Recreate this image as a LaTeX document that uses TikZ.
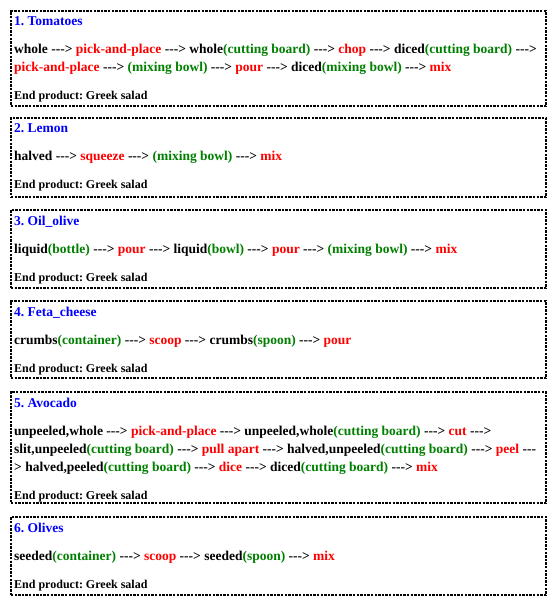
\documentclass[tikz,border=0pt]{standalone}
\usepackage{fontspec}
\setmainfont{Liberation Serif}[Ligatures=TeXOff]
\usetikzlibrary{positioning}

\definecolor{titleblue}{RGB}{0,0,255}
\definecolor{actred}{RGB}{255,0,0}
\definecolor{locgreen}{RGB}{0,128,0}
\newcommand{\act}[1]{\textcolor{actred}{#1}}
\newcommand{\loc}[1]{\textcolor{locgreen}{#1}}
\newcommand{\dish}[1]{\textcolor{titleblue}{#1}}
\newcommand{\product}[1]{{\fontsize{12pt}{18pt}\selectfont #1}}

\begin{document}
\begin{tikzpicture}[x=1pt,y=1pt,
    every node/.style={font=\bfseries\frenchspacing\fontsize{13.5pt}{18pt}\selectfont},
    recipe/.style={draw=black,line width=1.2pt,dash pattern=on 2.4pt off 1.2pt,
        minimum width=535pt,inner sep=0pt,outer sep=0pt,anchor=north},
    steps/.style={anchor=north west,align=left,inner sep=0pt}]

\useasboundingbox[fill=white] (0,0) rectangle (558,-601);

% Boxes
\node[  recipe,
        minimum height=95pt
    ] (box1) at (278.5,-11) {};
\node[  recipe,
        minimum height=79pt,
        below=12pt of box1
    ] (box2) {};
\node[  recipe,
        minimum height=78pt,
        below=13pt of box2
    ] (box3) {};
\node[  recipe,
        minimum height=77pt,
        below=13pt of box3
    ] (box4) {};
\node[  recipe,
        minimum height=111pt,
        below=14pt of box4
    ] (box5) {};
\node[  recipe,
        minimum height=78pt,
        below=14pt of box5
    ] (box6) {};

% Texts
\node[steps] (steps1) at ([xshift=3pt,yshift=-5.5pt]box1.north west) {%
    \dish{1. Tomatoes}\\[10pt]
    whole ---> \act{pick-and-place} ---> whole\loc{(cutting board)} ---> \act{chop} ---> diced\loc{(cutting board)} --->\\
    \act{pick-and-place} ---> \loc{(mixing bowl)} ---> \act{pour} ---> diced\loc{(mixing bowl)} ---> \act{mix}\\[10pt]
    \product{End product: Greek salad}};
\node[steps] (steps2) at ([xshift=3pt,yshift=-5.5pt]box2.north west) {%
    \dish{2. Lemon}\\[10pt]
    halved ---> \act{squeeze} ---> \loc{(mixing bowl)} ---> \act{mix}\\[10pt]
    \product{End product: Greek salad}};
\node[steps] (steps3) at ([xshift=3pt,yshift=-5.5pt]box3.north west) {%
    \dish{3. Oil\_olive}\\[10pt]
    liquid\loc{(bottle)} ---> \act{pour} ---> liquid\loc{(bowl)} ---> \act{pour} ---> \loc{(mixing bowl)} ---> \act{mix}\\[10pt]
    \product{End product: Greek salad}};
\node[steps] (steps4) at ([xshift=3pt,yshift=-5.5pt]box4.north west) {%
    \dish{4. Feta\_cheese}\\[10pt]
    crumbs\loc{(container)} ---> \act{scoop} ---> crumbs\loc{(spoon)} ---> \act{pour}\\[10pt]
    \product{End product: Greek salad}};
\node[steps] (steps5) at ([xshift=3pt,yshift=-5.5pt]box5.north west) {%
    \dish{5. Avocado}\\[10pt]
    unpeeled,whole ---> \act{pick-and-place} ---> unpeeled,whole\loc{(cutting board)} ---> \act{cut} --->\\
    slit,unpeeled\loc{(cutting board)} ---> \act{pull apart} ---> halved,unpeeled\loc{(cutting board)} ---> \act{peel} ---\\
    > halved,peeled\loc{(cutting board)} ---> \act{dice} ---> diced\loc{(cutting board)} ---> \act{mix}\\[10pt]
    \product{End product: Greek salad}};
\node[steps] (steps6) at ([xshift=3pt,yshift=-5.5pt]box6.north west) {%
    \dish{6. Olives}\\[10pt]
    seeded\loc{(container)} ---> \act{scoop} ---> seeded\loc{(spoon)} ---> \act{mix}\\[10pt]
    \product{End product: Greek salad}};

\end{tikzpicture}
\end{document}
